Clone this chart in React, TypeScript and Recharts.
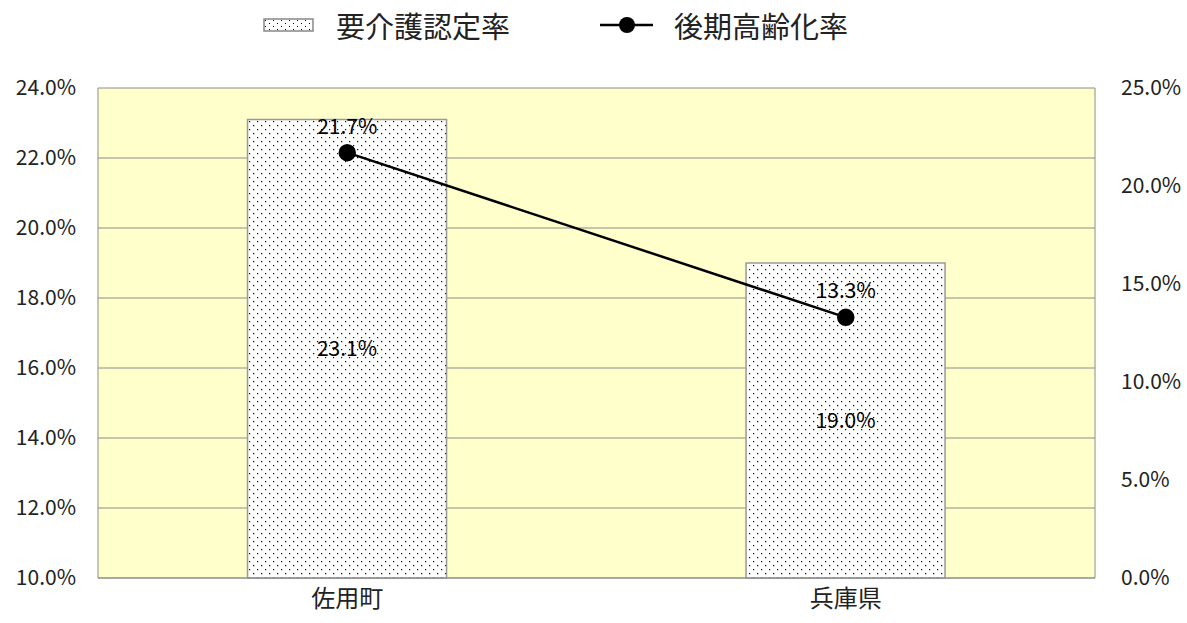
import React from 'react';
import { ComposedChart, Bar, Line, XAxis, YAxis, CartesianGrid, LabelList } from 'recharts';

const categories = ['佐用町', '兵庫県'];
const careCertRate = [23.1, 19.0];
const lateElderlyRate = [21.7, 13.3];
const leftTicks = [10, 12, 14, 16, 18, 20, 22, 24];
const rightTicks = [0, 5, 10, 15, 20, 25];
const seriesNames = ['要介護認定率', '後期高齢化率'];

const data = categories.map((c, i) => ({ name: c, care: careCertRate[i], elderly: lateElderlyRate[i] }));

const FONT = '"Noto Sans CJK JP", "Noto Sans", sans-serif';
const pct = (v: number) => `${Number(v).toFixed(1)}%`;

const LegendBlock = () => (
  <div
    style={{
      position: 'absolute',
      left: 263,
      top: 5,
      display: 'flex',
      alignItems: 'center',
      fontFamily: FONT,
      fontSize: 29,
      lineHeight: '40px',
      color: '#222',
      whiteSpace: 'nowrap',
    }}
  >
    <svg width={51} height={14} style={{ marginRight: 22 }}>
      <defs>
        <pattern id="dotsLegend" width={8} height={6} patternUnits="userSpaceOnUse">
          <rect width={8} height={6} fill="#fff" />
          <rect x={2} y={2} width={1} height={1} fill="#000" />
          <rect x={6} y={5} width={1} height={1} fill="#000" />
        </pattern>
      </defs>
      <rect x={1} y={1} width={49} height={12} fill="url(#dotsLegend)" stroke="#888" strokeWidth={1.5} />
    </svg>
    <span style={{ marginRight: 90 }}>{seriesNames[0]}</span>
    <svg width={53} height={20} style={{ marginRight: 21 }}>
      <line x1={0} y1={10} x2={53} y2={10} stroke="#000" strokeWidth={2.5} />
      <circle cx={27} cy={10} r={8} fill="#000" />
    </svg>
    <span>{seriesNames[1]}</span>
  </div>
);

export default function App() {
  return (
    <div style={{ position: 'absolute', left: 0, top: 0, width: 1187, height: 623, background: '#fff' }}>
      <ComposedChart width={1187} height={623} data={data} margin={{ top: 88, right: 0, bottom: 5, left: 8 }} barCategoryGap="30%">
        <defs>
          <pattern id="dots" width={8} height={8} patternUnits="userSpaceOnUse">
            <rect width={8} height={8} fill="#fff" />
            <rect x={1} y={1} width={1.2} height={1.2} fill="#000" />
            <rect x={5} y={5} width={1.2} height={1.2} fill="#000" />
          </pattern>
        </defs>
        <CartesianGrid vertical={false} stroke="#8c8c8c" fill="#FFFFCC" fillOpacity={1} yAxisId="left" />
        <XAxis
          xAxisId="marks"
          type="number"
          domain={[0, 2]}
          ticks={[1]}
          height={0}
          mirror
          tick={false}
          axisLine={false}
          tickLine={{ stroke: '#8c8c8c', strokeWidth: 1.5 }}
          tickSize={8}
        />
        <XAxis
          dataKey="name"
          height={40}
          axisLine={{ stroke: '#8c8c8c' }}
          tickLine={false}
          tick={{ fontFamily: FONT, fontSize: 24, fill: '#222' }}
          tickMargin={6}
        />
        <YAxis
          yAxisId="left"
          width={90}
          domain={[10, 24]}
          ticks={leftTicks}
          tickFormatter={pct}
          axisLine={{ stroke: '#8c8c8c' }}
          tickLine={false}
          tickMargin={16}
          tick={{ fontFamily: FONT, fontSize: 21, fill: '#222' }}
        />
        <YAxis
          yAxisId="rightMarks"
          orientation="right"
          width={0}
          mirror
          domain={[0, 25]}
          ticks={rightTicks}
          tick={false}
          axisLine={false}
          tickLine={{ stroke: '#8c8c8c', strokeWidth: 1.5 }}
          tickSize={8}
        />
        <YAxis
          yAxisId="right"
          orientation="right"
          width={92}
          domain={[0, 25]}
          ticks={rightTicks}
          tickFormatter={pct}
          axisLine={{ stroke: '#8c8c8c' }}
          tickLine={false}
          tickMargin={20}
          tick={{ fontFamily: FONT, fontSize: 21, fill: '#222' }}
        />
        <Bar yAxisId="left" dataKey="care" name={seriesNames[0]} fill="url(#dots)" stroke="#999" strokeWidth={1.5} isAnimationActive={false}>
          <LabelList dataKey="care" position="center" formatter={pct} style={{ fontFamily: FONT, fontSize: 21, fill: '#000' }} />
        </Bar>
        <Line yAxisId="right" dataKey="elderly" name={seriesNames[1]} stroke="#000" strokeWidth={2.5} dot={{ r: 7.5, fill: '#000', stroke: '#000' }} isAnimationActive={false}>
          <LabelList dataKey="elderly" position="top" offset={19} formatter={pct} style={{ fontFamily: FONT, fontSize: 21, fill: '#000' }} />
        </Line>
      </ComposedChart>
      <LegendBlock />
    </div>
  );
}
